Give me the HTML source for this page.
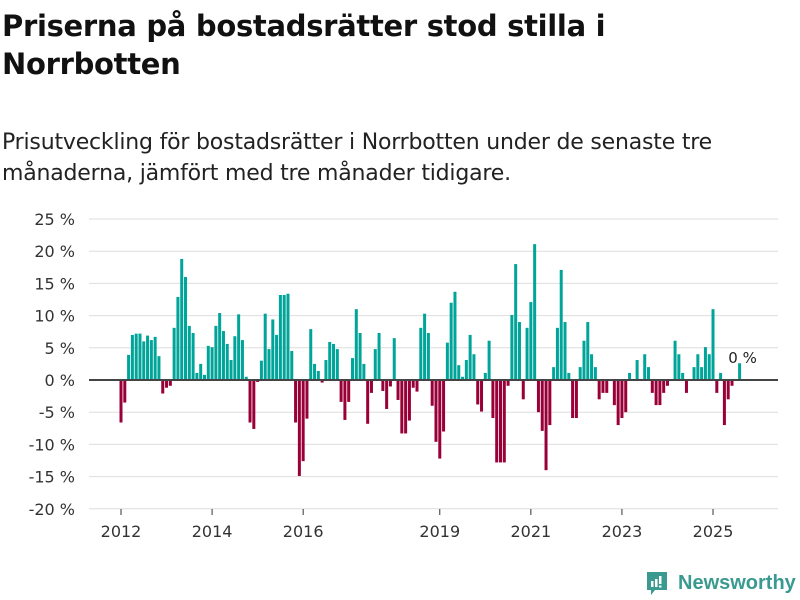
<!DOCTYPE html>
<html><head><meta charset="utf-8"><style>
body{margin:0;background:#fff;width:800px;height:600px;overflow:hidden;font-family:"Liberation Sans","DejaVu Sans",sans-serif;color:#111}
h1{position:absolute;left:2px;top:7px;margin:0;font-size:29px;line-height:38px;font-weight:bold;width:780px;font-family:"DejaVu Sans","Liberation Sans",sans-serif;letter-spacing:-0.3px}
.sub{position:absolute;left:2px;top:127px;margin:0;font-size:22px;line-height:31px;width:790px;color:#222;font-family:"DejaVu Sans","Liberation Sans",sans-serif;letter-spacing:-0.2px}
svg{position:absolute;left:0;top:0}
.logo{position:absolute;left:645px;top:570px;display:flex;align-items:center;font-family:"Liberation Sans","DejaVu Sans",sans-serif;font-size:20px;color:#3a9a90;font-weight:bold}
</style></head><body>
<h1>Priserna på bostadsrätter stod stilla i Norrbotten</h1>
<p class="sub">Prisutveckling för bostadsrätter i Norrbotten under de senaste tre månaderna, jämfört med tre månader tidigare.</p>
<svg id="chart" width="800" height="600"></svg>
<div class="logo">
<svg width="24" height="26" style="position:static;margin-right:9px"><path d="M2 2h20v18h-12l-4 5v-5h-4z" fill="#3a9a90"/><rect x="6" y="11" width="2.5" height="6" fill="#fff"/><rect x="10" y="9" width="2.5" height="8" fill="#fff"/><rect x="14" y="6" width="2.5" height="8" fill="#fff"/><rect x="14" y="15.5" width="2.5" height="2" fill="#fff"/></svg>
<span>Newsworthy</span></div>
<script>
const values=[-6.6,-3.5,3.9,7.0,7.2,7.2,6.0,6.9,6.2,6.7,3.7,-2.1,-1.2,-0.9,8.1,12.9,18.8,16.0,8.4,7.3,1.1,2.5,0.8,5.3,5.1,8.4,10.4,7.6,5.6,3.1,6.8,10.2,6.2,0.5,
-6.6,-7.6,-0.3,3.0,10.3,4.8,9.4,7.0,13.2,13.2,13.4,4.5,-6.6,-14.9,-12.6,-6.0,7.9,2.5,1.4,-0.4,3.1,5.9,5.6,4.8,-3.4,-6.2,-3.4,3.4,11.0,7.3,2.5,-6.8,-2.0,4.8,7.3,-1.7,
-4.5,-1.0,6.5,-3.1,-8.3,-8.3,-6.3,-1.2,-1.8,8.1,10.3,7.3,-4.0,-9.6,-12.2,-8.0,5.8,12.0,13.7,2.3,0.5,3.1,7.0,4.0,-3.8,-4.9,1.1,6.1,-5.9,-12.8,-12.8,-12.8,-0.9,10.1,18.0,
9.0,-3.0,8.1,12.1,21.1,-5.0,-7.9,-14.0,-7.0,2.0,8.1,17.1,9.0,1.1,-5.9,-5.9,2.0,6.1,9.0,4.0,2.0,-3.0,-2.0,-2.0,0,-3.9,-7.0,-5.9,-5.0,1.1,0,3.1,0,4.0,2.0,-2.0,-3.9,-3.9,-2.0,-0.9,0,6.1,4.0,1.1,-2.0,0,2.0,4.0,2.0,5.1,4.0,11.0,-2.0,1.1,-7.0,-3.0,-0.9,0,2.6];
const startYear=2012;
const yTicks=[25,20,15,10,5,0,-5,-10,-15,-20];
const xTickYears=[2012,2014,2016,2019,2021,2023,2025];
const lastLabel="0 %";
const NS="http://www.w3.org/2000/svg";
const svg=document.getElementById('chart');
const x0=89,x1=778;
const y=v=>380-v*6.44;
const xm=i=>121+i*3.795;
function mk(t,a){const e=document.createElementNS(NS,t);for(const k in a)e.setAttribute(k,a[k]);svg.appendChild(e);return e;}
yTicks.forEach(t=>{
 const g=mk('line',{x1:x0,x2:x1,y1:y(t),y2:y(t),stroke:'#dedede','stroke-width':1});
 
 
 const l=mk('text',{x:75,y:y(t)+6,'text-anchor':'end','font-size':16,fill:'#333','font-family':'DejaVu Sans, Liberation Sans, sans-serif'});
 l.textContent=t+' %';
 
 
});
values.forEach((v,i)=>{
 if(v===0)return;
 const r=mk('rect',{x:xm(i)-1.5,width:3,y:Math.min(y(v),380),height:Math.abs(y(v)-380),fill:v>0?'#00a499':'#990037'});
 
 
});
const z=mk('line',{x1:x0,x2:x1,y1:380,y2:380,stroke:'#444','stroke-width':2});


xTickYears.forEach(yr=>{
 const xx=xm((yr-startYear)*12);
 const tk=mk('line',{x1:xx,x2:xx,y1:509,y2:515,stroke:'#333','stroke-width':1});
 
 
 const l=mk('text',{x:xx,y:537,'text-anchor':'middle','font-size':16,fill:'#333','font-family':'DejaVu Sans, Liberation Sans, sans-serif'});
 l.textContent=yr;
 
 
});
const li=values.length-1;
const lab=mk('text',{x:xm(li)+3,y:363,'text-anchor':'middle','font-size':15,fill:'#222','font-family':'DejaVu Sans, Liberation Sans, sans-serif',stroke:'#fff','stroke-width':3,'paint-order':'stroke'});
lab.textContent=lastLabel;


</script>
</body></html>
